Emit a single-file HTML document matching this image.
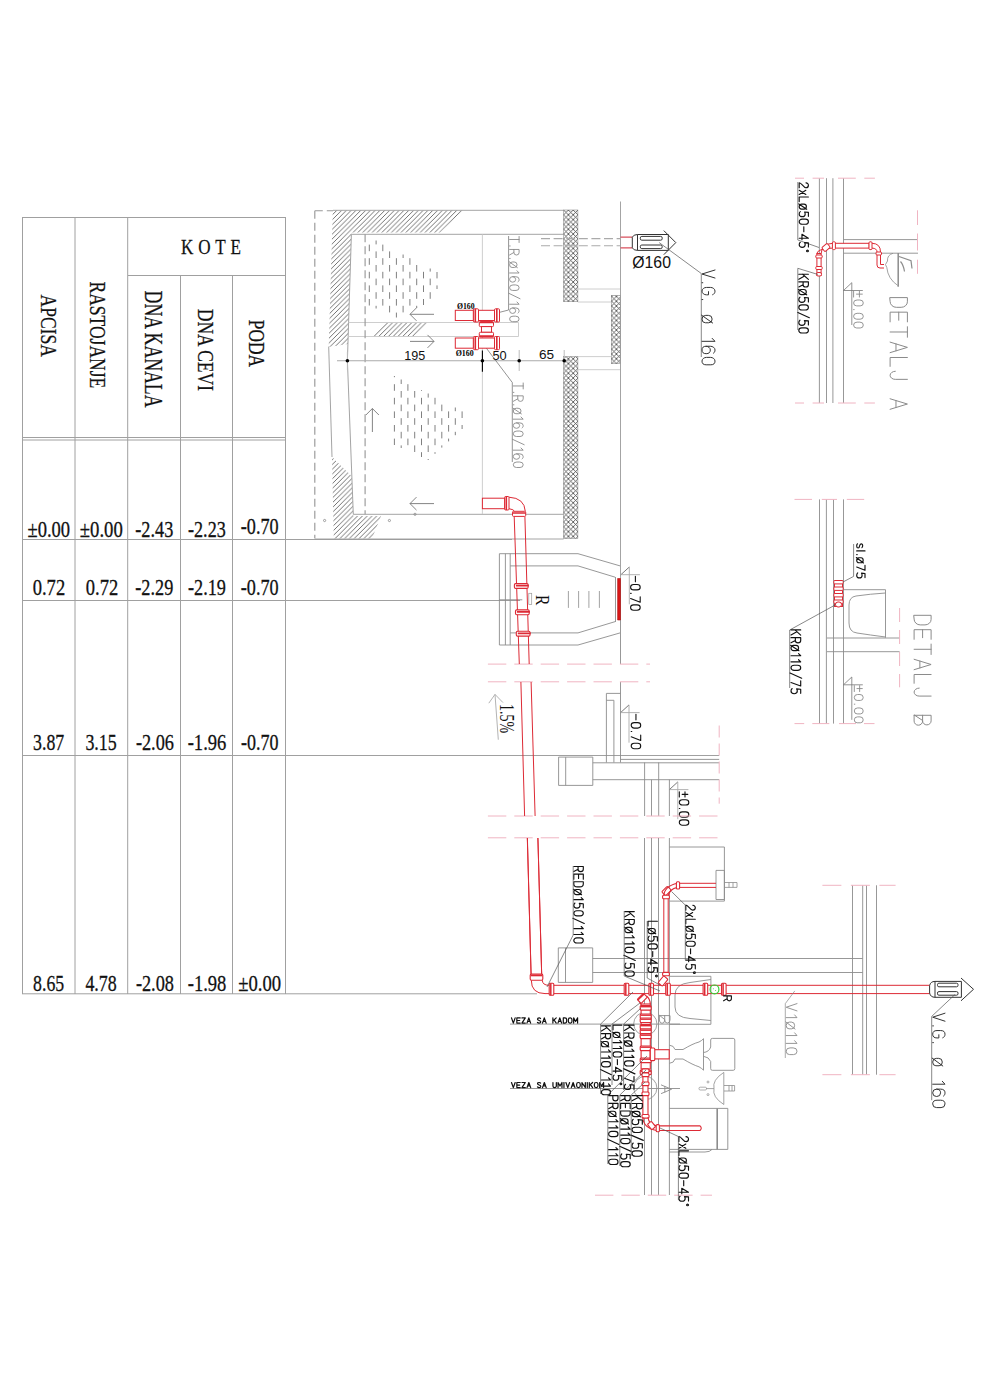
<!DOCTYPE html>
<html><head><meta charset="utf-8">
<style>html,body{margin:0;padding:0;background:#fff;}svg{display:block;}</style></head><body>
<svg width="990" height="1400" viewBox="0 0 990 1400">
<rect width="990" height="1400" fill="#fff"/>
<g stroke="#a0a0a0" stroke-width="1" fill="none">
<path d="M22 217.5H286M128 275.5H286M22 437.5H286M22 440H286M22 539.5H512M22 600.5H520M22 755.5H719.2M22 993.8H537"/>
<path d="M22.5 217V994M75 217V994M127.7 217V994M180.5 275V994M232.5 275V994M285.5 217V994"/>
</g>
<text transform="translate(181,254.28) scale(0.791,1)" font-family='"Liberation Serif",serif' font-size="21.64" fill="#111" stroke="#111" stroke-width="0.25" letter-spacing="6.06">KOTE</text>
<text transform="translate(41.13,294.5) rotate(90) scale(0.760,1)" font-family='"Liberation Serif",serif' font-size="23.13" fill="#111" stroke="#111" stroke-width="0.25">APCISA</text>
<text transform="translate(90.44,281.5) rotate(90) scale(0.729,1)" font-family='"Liberation Serif",serif' font-size="24.03" fill="#111" stroke="#111" stroke-width="0.25">RASTOJANJE</text>
<text transform="translate(145.1,290.6) rotate(90) scale(0.724,1)" font-family='"Liberation Serif",serif' font-size="24.55" fill="#111" stroke="#111" stroke-width="0.25">DNA KANALA</text>
<text transform="translate(198.15,308.8) rotate(90) scale(0.754,1)" font-family='"Liberation Serif",serif' font-size="23.26" fill="#111" stroke="#111" stroke-width="0.25">DNA CEVI</text>
<text transform="translate(248.83,319.8) rotate(90) scale(0.758,1)" font-family='"Liberation Serif",serif' font-size="22.99" fill="#111" stroke="#111" stroke-width="0.25">PODA</text>
<text transform="translate(27.5,536.65) scale(0.799,1)" font-family='"Liberation Serif",serif' font-size="23.24" fill="#111" stroke="#111" stroke-width="0.3">±0.00</text>
<text transform="translate(79.8,536.65) scale(0.806,1)" font-family='"Liberation Serif",serif' font-size="23.24" fill="#111" stroke="#111" stroke-width="0.3">±0.00</text>
<text transform="translate(135.3,536.65) scale(0.779,1)" font-family='"Liberation Serif",serif' font-size="23.41" fill="#111" stroke="#111" stroke-width="0.3">-2.43</text>
<text transform="translate(188,536.65) scale(0.775,1)" font-family='"Liberation Serif",serif' font-size="23.41" fill="#111" stroke="#111" stroke-width="0.3">-2.23</text>
<text transform="translate(240.8,533.85) scale(0.777,1)" font-family='"Liberation Serif",serif' font-size="23.38" fill="#111" stroke="#111" stroke-width="0.3">-0.70</text>
<text transform="translate(32.7,594.65) scale(0.789,1)" font-family='"Liberation Serif",serif' font-size="23.53" fill="#111" stroke="#111" stroke-width="0.3">0.72</text>
<text transform="translate(85.8,594.65) scale(0.787,1)" font-family='"Liberation Serif",serif' font-size="23.53" fill="#111" stroke="#111" stroke-width="0.3">0.72</text>
<text transform="translate(135.3,594.64) scale(0.769,1)" font-family='"Liberation Serif",serif' font-size="23.70" fill="#111" stroke="#111" stroke-width="0.3">-2.29</text>
<text transform="translate(188,594.64) scale(0.769,1)" font-family='"Liberation Serif",serif' font-size="23.70" fill="#111" stroke="#111" stroke-width="0.3">-2.19</text>
<text transform="translate(240.8,594.65) scale(0.773,1)" font-family='"Liberation Serif",serif' font-size="23.53" fill="#111" stroke="#111" stroke-width="0.3">-0.70</text>
<text transform="translate(33.1,750.16) scale(0.780,1)" font-family='"Liberation Serif",serif' font-size="22.79" fill="#111" stroke="#111" stroke-width="0.3">3.87</text>
<text transform="translate(85.4,750.16) scale(0.781,1)" font-family='"Liberation Serif",serif' font-size="22.96" fill="#111" stroke="#111" stroke-width="0.3">3.15</text>
<text transform="translate(135.9,750.16) scale(0.802,1)" font-family='"Liberation Serif",serif' font-size="22.79" fill="#111" stroke="#111" stroke-width="0.3">-2.06</text>
<text transform="translate(187.7,750.16) scale(0.808,1)" font-family='"Liberation Serif",serif' font-size="22.96" fill="#111" stroke="#111" stroke-width="0.3">-1.96</text>
<text transform="translate(240.9,750.16) scale(0.791,1)" font-family='"Liberation Serif",serif' font-size="22.79" fill="#111" stroke="#111" stroke-width="0.3">-0.70</text>
<text transform="translate(33.1,991.04) scale(0.737,1)" font-family='"Liberation Serif",serif' font-size="24.12" fill="#111" stroke="#111" stroke-width="0.3">8.65</text>
<text transform="translate(85.4,991.04) scale(0.744,1)" font-family='"Liberation Serif",serif' font-size="24.12" fill="#111" stroke="#111" stroke-width="0.3">4.78</text>
<text transform="translate(135.9,991.04) scale(0.758,1)" font-family='"Liberation Serif",serif' font-size="24.12" fill="#111" stroke="#111" stroke-width="0.3">-2.08</text>
<text transform="translate(187.7,991.04) scale(0.770,1)" font-family='"Liberation Serif",serif' font-size="24.12" fill="#111" stroke="#111" stroke-width="0.3">-1.98</text>
<text transform="translate(238.2,991.04) scale(0.775,1)" font-family='"Liberation Serif",serif' font-size="24.12" fill="#111" stroke="#111" stroke-width="0.3">±0.00</text>
<defs>
<pattern id="hat" patternUnits="userSpaceOnUse" width="4.8" height="4.8"><path d="M-1 5.8L5.8 -1M-1 1L1 -1M3.8 5.8L5.8 3.8" stroke="#5a5a5a" stroke-width="0.85"/></pattern>
<pattern id="crs" patternUnits="userSpaceOnUse" width="4.8" height="4.8" x="563.6" y="210"><path d="M0 0L4.8 4.8M4.8 0L0 4.8" stroke="#404040" stroke-width="0.8"/></pattern>
<filter id="thin" x="-10%" y="-10%" width="120%" height="120%"><feMorphology operator="erode" radius="0.45"/></filter>
<filter id="thin2" x="-10%" y="-10%" width="120%" height="120%"><feMorphology operator="erode" radius="0.3"/></filter>
</defs>
<g fill="none" stroke="#9a9a9a" stroke-width="0.9">
<path fill="url(#hat)" stroke="none" d="M332.8 210.5H464L440 232.6H351.3L348 344L328.7 347Z"/>
<path fill="url(#hat)" stroke="none" d="M332 457L351.6 476L353.3 516H381L372 538.6H333.8Z"/>
<path fill="url(#hat)" stroke="none" d="M373 336.5L386 322.5H428L415 336.5Z"/>
<rect x="563.6" y="210" width="14.3" height="91.7" fill="url(#crs)" stroke="#777" stroke-width="0.5"/>
<rect x="563.6" y="356.6" width="14.3" height="182" fill="url(#crs)" stroke="#777" stroke-width="0.5"/>
<rect x="611.3" y="295.4" width="9.2" height="68.3" fill="url(#crs)" stroke="#777" stroke-width="0.5"/>
<path d="M333 210.3H563.6M351.4 234.3H563.6M351.4 234.3L347.4 360.7L353.3 514.3H563.6M328.7 346.6L332 457"/>
<path d="M482.4 234.3V514M348.5 322.5H518.5V336.5H348.5" stroke="#c8c8c8"/>
<path d="M577.9 289H620.5M577.9 302H611.3M577.9 356.6H611.3M577.9 369.7H620.5" stroke="#c8c8c8"/>
<path d="M620.5 201.5V580"/>
<path d="M315 539H563.6"/>
</g>
<g fill="none" stroke="#999" stroke-width="1.15" stroke-dasharray="8 4">
<path d="M314.8 210.7V538.6M314.8 210.7H333M365.1 234.3V514.3"/>
</g>
<g fill="none" stroke="#aaa" stroke-width="1.1" stroke-dasharray="9 3.6">
<path d="M541 238.6H620.5M541 245.8H620.5"/>
</g>
<path d="M369.3 244.6V251.2M369.3 258.2V264.8M369.3 271.8V278.4M369.3 285.4V292.0M369.3 299.0V305.5M376.1 240.5V244.4M376.1 251.4V258.0M376.1 265.0V271.6M376.1 278.6V285.2M376.1 292.2V298.8M376.1 305.8V308.5M382.8 244.6V251.2M382.8 258.2V264.8M382.8 271.8V278.4M382.8 285.4V292.0M382.8 299.0V305.6M389.6 251.4V258.0M389.6 265.0V271.6M389.6 278.6V285.2M389.6 292.2V298.8M389.6 305.8V312.4M396.4 258.2V264.8M396.4 271.8V278.4M396.4 285.4V292.0M396.4 299.0V305.6M396.4 312.6V317.5M403.1 254.5V258.0M403.1 265.0V271.6M403.1 278.6V285.2M403.1 292.2V298.8M403.1 305.8V312.4M409.9 258.2V264.8M409.9 271.8V278.4M409.9 285.4V292.0M409.9 299.0V305.6M416.7 265.0V271.6M416.7 278.6V285.2M416.7 292.2V298.8M416.7 305.8V308.0M423.5 271.8V278.4M423.5 285.4V292.0M423.5 299.0V305.0M430.2 268.5V271.6M430.2 278.6V285.2M430.2 292.2V298.8M437.0 272.0V278.4M437.0 285.4V289.0" stroke="#808080" stroke-width="1" fill="none"/>
<path d="M394.4 376.0V377.2M394.4 384.2V390.8M394.4 397.8V404.4M394.4 411.4V418.0M394.4 425.0V431.6M394.4 438.6V445.0M401.2 379.5V384.0M401.2 391.0V397.6M401.2 404.6V411.2M401.2 418.2V424.8M401.2 431.8V438.4M401.2 445.4V448.0M407.9 384.2V390.8M407.9 397.8V404.4M407.9 411.4V418.0M407.9 425.0V431.6M407.9 438.6V445.2M414.7 391.0V397.6M414.7 404.6V411.2M414.7 418.2V424.8M414.7 431.8V438.4M414.7 445.4V452.0M421.5 390.0V390.8M421.5 397.8V404.4M421.5 411.4V418.0M421.5 425.0V431.6M421.5 438.6V445.2M421.5 452.2V457.0M428.2 393.5V397.6M428.2 404.6V411.2M428.2 418.2V424.8M428.2 431.8V438.4M428.2 445.4V452.0M428.2 459.0V460.0M435.0 397.8V404.4M435.0 411.4V418.0M435.0 425.0V431.6M435.0 438.6V445.2M435.0 452.2V453.8M441.8 404.6V411.2M441.8 418.2V424.8M441.8 431.8V438.4M441.8 445.4V447.6M448.6 411.4V418.0M448.6 425.0V431.6M448.6 438.6V441.4M455.3 407.5V411.2M455.3 418.2V424.8M455.3 431.8V435.2M462.1 411.4V418.0M462.1 425.0V429.0" stroke="#808080" stroke-width="1" fill="none"/>
<g stroke="#777" stroke-width="0.9" fill="none">
<path d="M434.0 314.3L410.0 314.3M416.5 307.8L410.0 314.3L416.5 320.8"/>
<path d="M410.0 341.4L434.0 341.4M427.5 347.9L434.0 341.4L427.5 334.9"/>
<path d="M372.4 432.0L372.4 408.5M378.9 415.0L372.4 408.5L365.9 415.0"/>
<path d="M434.0 503.6L410.0 503.6M416.5 497.1L410.0 503.6L416.5 510.1"/>
</g>
<g fill="none" stroke="#888" stroke-width="0.8"><circle cx="324.6" cy="520.5" r="1.1"/><circle cx="389.4" cy="520.5" r="1.1"/><circle cx="415" cy="514.3" r="1.1"/></g>
<path d="M337 360.7H569" stroke="#aaa" stroke-width="1.1"/>
<path d="M519.2 350V371M564.2 350V371M347.4 352V370" stroke="#bbb" stroke-width="1"/>
<path d="M482.4 350.5V371.7" stroke="#000" stroke-width="1.1"/>
<g fill="#000"><circle cx="347.4" cy="360.7" r="1.8"/><circle cx="482.4" cy="360.7" r="1.8"/><circle cx="519.2" cy="360.7" r="1.8"/><circle cx="564.2" cy="360.7" r="1.8"/></g>
<text transform="translate(404.3,359.76) scale(0.934,1)" font-family='"Liberation Sans",sans-serif' font-size="13.52" fill="#111" >195</text>
<text transform="translate(492.4,359.66) scale(0.936,1)" font-family='"Liberation Sans",sans-serif' font-size="13.66" fill="#111" >50</text>
<text transform="translate(539,359.08) scale(1.123,1)" font-family='"Liberation Sans",sans-serif' font-size="12.11" fill="#111" >65</text>
<path d="M482.3 316.9L499.3 312.4L508.6 310V236" stroke="#666" stroke-width="0.7" fill="none"/>
<g transform="matrix(0,0.9191,-0.9500,0,509.60,236.50)" fill="none" stroke="#8a8a8a" stroke-width="0.9" stroke-linecap="round" stroke-linejoin="round"><path vector-effect="non-scaling-stroke" transform="translate(0.00,0)" d="M0,-10H6.5M3.25,-10V0"/><path vector-effect="non-scaling-stroke" transform="translate(9.50,0)" d="M0.8,-0.6V0"/><path vector-effect="non-scaling-stroke" transform="translate(14.10,0)" d="M0,0V-10H3.3A2.75,2.75 0 0 1 3.3,-4.5H0M3.3,-4.5L6,0"/><path vector-effect="non-scaling-stroke" transform="translate(23.10,0)" d="M0.8,-0.6V0"/><path vector-effect="non-scaling-stroke" transform="translate(27.70,0)" d="M0,-5.2A3,2.6 0 0 1 6,-5.2V-2.6A3,2.6 0 0 1 0,-2.6ZM-0.2,0.4L6.2,-8.2"/><path vector-effect="non-scaling-stroke" transform="translate(36.70,0)" d="M0.6,-7.8L3,-10V0"/><path vector-effect="non-scaling-stroke" transform="translate(43.70,0)" d="M5.6,-8.9C5,-9.7 4.1,-10 3,-10A3,3.6 0 0 0 0,-6.4V-3.2A3,3.2 0 0 0 6,-3.2A3,3.2 0 0 0 0,-3.2"/><path vector-effect="non-scaling-stroke" transform="translate(52.70,0)" d="M0,-6.8A3,3.2 0 0 1 6,-6.8V-3.2A3,3.2 0 0 1 0,-3.2Z"/><path vector-effect="non-scaling-stroke" transform="translate(61.70,0)" d="M0,1L6,-11"/><path vector-effect="non-scaling-stroke" transform="translate(70.70,0)" d="M0.6,-7.8L3,-10V0"/><path vector-effect="non-scaling-stroke" transform="translate(77.70,0)" d="M5.6,-8.9C5,-9.7 4.1,-10 3,-10A3,3.6 0 0 0 0,-6.4V-3.2A3,3.2 0 0 0 6,-3.2A3,3.2 0 0 0 0,-3.2"/><path vector-effect="non-scaling-stroke" transform="translate(86.70,0)" d="M0,-6.8A3,3.2 0 0 1 6,-6.8V-3.2A3,3.2 0 0 1 0,-3.2Z"/></g>
<path d="M482.3 342.8L512.3 382.5V462" stroke="#666" stroke-width="0.7" fill="none"/>
<g transform="matrix(0,0.9115,-0.9900,0,513.30,383.00)" fill="none" stroke="#8a8a8a" stroke-width="0.9" stroke-linecap="round" stroke-linejoin="round"><path vector-effect="non-scaling-stroke" transform="translate(0.00,0)" d="M0,-10H6.5M3.25,-10V0"/><path vector-effect="non-scaling-stroke" transform="translate(9.50,0)" d="M0.8,-0.6V0"/><path vector-effect="non-scaling-stroke" transform="translate(14.10,0)" d="M0,0V-10H3.3A2.75,2.75 0 0 1 3.3,-4.5H0M3.3,-4.5L6,0"/><path vector-effect="non-scaling-stroke" transform="translate(23.10,0)" d="M0.8,-0.6V0"/><path vector-effect="non-scaling-stroke" transform="translate(27.70,0)" d="M0,-5.2A3,2.6 0 0 1 6,-5.2V-2.6A3,2.6 0 0 1 0,-2.6ZM-0.2,0.4L6.2,-8.2"/><path vector-effect="non-scaling-stroke" transform="translate(36.70,0)" d="M0.6,-7.8L3,-10V0"/><path vector-effect="non-scaling-stroke" transform="translate(43.70,0)" d="M5.6,-8.9C5,-9.7 4.1,-10 3,-10A3,3.6 0 0 0 0,-6.4V-3.2A3,3.2 0 0 0 6,-3.2A3,3.2 0 0 0 0,-3.2"/><path vector-effect="non-scaling-stroke" transform="translate(52.70,0)" d="M0,-6.8A3,3.2 0 0 1 6,-6.8V-3.2A3,3.2 0 0 1 0,-3.2Z"/><path vector-effect="non-scaling-stroke" transform="translate(61.70,0)" d="M0,1L6,-11"/><path vector-effect="non-scaling-stroke" transform="translate(70.70,0)" d="M0.6,-7.8L3,-10V0"/><path vector-effect="non-scaling-stroke" transform="translate(77.70,0)" d="M5.6,-8.9C5,-9.7 4.1,-10 3,-10A3,3.6 0 0 0 0,-6.4V-3.2A3,3.2 0 0 0 6,-3.2A3,3.2 0 0 0 0,-3.2"/><path vector-effect="non-scaling-stroke" transform="translate(86.70,0)" d="M0,-6.8A3,3.2 0 0 1 6,-6.8V-3.2A3,3.2 0 0 1 0,-3.2Z"/></g>
<text transform="translate(456.9,308.7) scale(0.953,1)" font-family='"Liberation Serif",serif' font-weight='bold' font-size="8.14" fill="#000" >Ø160</text>
<text transform="translate(455.7,355.58) scale(0.911,1)" font-family='"Liberation Serif",serif' font-weight='bold' font-size="8.71" fill="#000" >Ø160</text>
<g stroke="#dd2a35" stroke-width="1" fill="#fff">
<rect x="455.3" y="310.3" width="18.1" height="10.2"/>
<rect x="478.5" y="310.3" width="16" height="10.2"/>
<rect x="473.4" y="308.8" width="5.1" height="13.2" rx="1"/>
<rect x="494.5" y="308.8" width="5" height="13.2" rx="1"/>
<path d="M475.3 308.8V322.1M496.8 308.8V322.1" stroke-width="1.6"/>
<rect x="455.3" y="338.0" width="18.1" height="10.2"/>
<rect x="478.5" y="338.0" width="16" height="10.2"/>
<rect x="473.4" y="336.5" width="5.1" height="13.2" rx="1"/>
<rect x="494.5" y="336.5" width="5" height="13.2" rx="1"/>
<path d="M475.3 336.5V349.7M496.8 336.5V349.7" stroke-width="1.6"/>
<rect x="479.3" y="321.6" width="14.2" height="5" rx="1"/><rect x="481.5" y="326.6" width="10" height="5.7"/><rect x="479.3" y="332.3" width="14.2" height="4.6" rx="1"/>
<path d="M479.5 322.3H493.3M479.5 336.2H493.3" stroke-width="1.8"/>
</g>
<path d="M620.5 237.2H632.3M620.5 247.8H632.3" stroke="#d9505e" stroke-width="1.2"/>
<g stroke="#333" stroke-width="1" fill="none">
<path d="M632.3 237.2Q633.5 234.5 637.5 234.5H668.3V250.4H637.5Q633.5 250.4 632.3 247.8ZM637.5 234.5V250.4"/>
<rect x="640.3" y="236.4" width="21.9" height="3.8" rx="1.5"/><rect x="640.3" y="245" width="21.9" height="3.6" rx="1.5"/>
<path d="M663.8 230.6L675.8 242.6L663.8 254.7"/>
</g>
<path d="M659.2 242.6L701.3 273.5V357" stroke="#555" stroke-width="0.7" fill="none"/>
<text transform="translate(632.3,267.92) scale(0.979,1)" font-family='"Liberation Sans",sans-serif' font-size="16.13" fill="#111" >Ø160</text>
<g transform="matrix(0,1.2360,-1.3000,0,702.00,270.00)" fill="none" stroke="#333" stroke-width="1.0" stroke-linecap="round" stroke-linejoin="round"><path vector-effect="non-scaling-stroke" transform="translate(0.00,0)" d="M0,-10L3.25,0L6.5,-10"/><path vector-effect="non-scaling-stroke" transform="translate(9.50,0)" d="M0.8,-0.6V0"/><path vector-effect="non-scaling-stroke" transform="translate(14.10,0)" d="M5.9,-8.2C5.4,-9.4 4.4,-10 3,-10A3,3.5 0 0 0 0,-6.5V-3.5A3,3.5 0 0 0 6,-3.5V-5H3.4"/><path vector-effect="non-scaling-stroke" transform="translate(23.10,0)" d="M0.8,-0.6V0"/><path vector-effect="non-scaling-stroke" transform="translate(36.70,0)" d="M0,-5.2A3,2.6 0 0 1 6,-5.2V-2.6A3,2.6 0 0 1 0,-2.6ZM-0.2,0.4L6.2,-8.2"/><path vector-effect="non-scaling-stroke" transform="translate(54.70,0)" d="M0.6,-7.8L3,-10V0"/><path vector-effect="non-scaling-stroke" transform="translate(61.70,0)" d="M5.6,-8.9C5,-9.7 4.1,-10 3,-10A3,3.6 0 0 0 0,-6.4V-3.2A3,3.2 0 0 0 6,-3.2A3,3.2 0 0 0 0,-3.2"/><path vector-effect="non-scaling-stroke" transform="translate(70.70,0)" d="M0,-6.8A3,3.2 0 0 1 6,-6.8V-3.2A3,3.2 0 0 1 0,-3.2Z"/></g>
<g fill="none" stroke="#8c8c8c" stroke-width="0.9">
<path d="M499.4 553.7V645M505.4 553.7V645M510.2 553.7V645M499.4 553.7H578L620.1 565.9M510.2 565.9H578L615.2 577.2M615.2 621.6L578 632.9H510.2M620.1 632.9L578 645H499.4M615.5 577V622"/>
<path d="M522.3 599.8H499" />
<path d="M620.5 580V664M620.5 682V762.5"/>
<path d="M606.4 762.5V693.4H620.5M613.9 762.5V700.3H606.4"/>
<path d="M558.6 757.1H592.8V785.4H558.6ZM565.7 757.1V785.4M592.8 762.8H719.2M592.8 779.7H719.2M620.5 759.4H719.2"/>
<path d="M644.6 762.5V816M651.5 779.7V816M658.7 762.5V816M669.4 779.7V816"/>
</g>
<path d="M617.6 578.5H620.5V620H617.6Z" fill="#d81818" stroke="#b01010" stroke-width="0.6"/>
<path d="M568.4 591V607.9M578.6 591V607.9M588.9 591V607.9M599.4 591V607.9" stroke="#999" stroke-width="0.9"/>
<rect x="528.8" y="593.3" width="2.9" height="11.3" fill="none" stroke="#999" stroke-width="0.7"/>
<text transform="translate(536,595) rotate(90) scale(0.782,1)" font-family='"Liberation Serif",serif' font-size="19.85" fill="#111" >R</text>
<path d="M620.9 574.7L629.3 567.0" stroke="#555" stroke-width="0.8" fill="none"/>
<path d="M629.3 567.0V604.3M620.9 574.7H639.9" stroke="#aaa" stroke-width="0.9" fill="none"/>
<g transform="matrix(0,0.9016,-0.9600,0,630.60,576.40)" fill="none" stroke="#111" stroke-width="1.1" stroke-linecap="round" stroke-linejoin="round"><path vector-effect="non-scaling-stroke" transform="translate(0.00,0)" d="M0,-5H6"/><path vector-effect="non-scaling-stroke" transform="translate(9.00,0)" d="M0,-6.8A3,3.2 0 0 1 6,-6.8V-3.2A3,3.2 0 0 1 0,-3.2Z"/><path vector-effect="non-scaling-stroke" transform="translate(18.00,0)" d="M0.8,-0.6V0"/><path vector-effect="non-scaling-stroke" transform="translate(22.60,0)" d="M0,-10H6L2,0"/><path vector-effect="non-scaling-stroke" transform="translate(31.60,0)" d="M0,-6.8A3,3.2 0 0 1 6,-6.8V-3.2A3,3.2 0 0 1 0,-3.2Z"/></g>
<path d="M620.6 712.6L629.0 704.9" stroke="#555" stroke-width="0.8" fill="none"/>
<path d="M629.0 704.9V742.7M620.6 712.6H639.6" stroke="#aaa" stroke-width="0.9" fill="none"/>
<g transform="matrix(0,0.9122,-0.9500,0,631.20,714.40)" fill="none" stroke="#111" stroke-width="1.1" stroke-linecap="round" stroke-linejoin="round"><path vector-effect="non-scaling-stroke" transform="translate(0.00,0)" d="M0,-5H6"/><path vector-effect="non-scaling-stroke" transform="translate(9.00,0)" d="M0,-6.8A3,3.2 0 0 1 6,-6.8V-3.2A3,3.2 0 0 1 0,-3.2Z"/><path vector-effect="non-scaling-stroke" transform="translate(18.00,0)" d="M0.8,-0.6V0"/><path vector-effect="non-scaling-stroke" transform="translate(22.60,0)" d="M0,-10H6L2,0"/><path vector-effect="non-scaling-stroke" transform="translate(31.60,0)" d="M0,-6.8A3,3.2 0 0 1 6,-6.8V-3.2A3,3.2 0 0 1 0,-3.2Z"/></g>
<path d="M669.4 789.6L677.8 781.9" stroke="#555" stroke-width="0.8" fill="none"/>
<path d="M677.8 781.9V819.2M669.4 789.6H688.4" stroke="#aaa" stroke-width="0.9" fill="none"/>
<g transform="matrix(0,0.8910,-0.9500,0,679.30,791.70)" fill="none" stroke="#111" stroke-width="1.1" stroke-linecap="round" stroke-linejoin="round"><path vector-effect="non-scaling-stroke" transform="translate(0.00,0)" d="M3,-9V-3M0,-6H6M0,0H6"/><path vector-effect="non-scaling-stroke" transform="translate(9.00,0)" d="M0,-6.8A3,3.2 0 0 1 6,-6.8V-3.2A3,3.2 0 0 1 0,-3.2Z"/><path vector-effect="non-scaling-stroke" transform="translate(18.00,0)" d="M0.8,-0.6V0"/><path vector-effect="non-scaling-stroke" transform="translate(22.60,0)" d="M0,-6.8A3,3.2 0 0 1 6,-6.8V-3.2A3,3.2 0 0 1 0,-3.2Z"/><path vector-effect="non-scaling-stroke" transform="translate(31.60,0)" d="M0,-6.8A3,3.2 0 0 1 6,-6.8V-3.2A3,3.2 0 0 1 0,-3.2Z"/></g>
<path d="M498.3 739.7L495 694.4M488.8 703.2L495 694.4L503 702.6" stroke="#aaa" stroke-width="0.9" fill="none"/>
<text transform="translate(499.91,704.1) rotate(90) scale(0.678,1)" font-family='"Liberation Serif",serif' font-size="20.59" fill="#111" >1.5%</text>
<path d="M487.9 664.1H650" stroke="#f0b4c2" stroke-width="1" stroke-dasharray="18.4 8"/>
<path d="M487.9 681.8H650" stroke="#f0b4c2" stroke-width="1" stroke-dasharray="18.4 8"/>
<path d="M487.9 816H720" stroke="#f0b4c2" stroke-width="1" stroke-dasharray="18.4 8"/>
<path d="M487.9 837.8H720" stroke="#f0b4c2" stroke-width="1" stroke-dasharray="18.4 8"/>
<path d="M719.2 725.5V803.7" stroke="#f0b4c2" stroke-width="1" stroke-dasharray="12 6"/>
<g stroke="#dd2a35" stroke-width="1" fill="none">
<path d="M514.2 516.4L519.3 664M524.9 516.4L529.2 664M520.9 682L524.6 816M531.1 682L535.1 816M527.4 838L531.1 975M537.9 838L541.7 975"/>
</g>
<g stroke="#dd2a35" stroke-width="1.1" fill="#fff">
<rect x="514.4" y="583.6" width="13.7" height="4.8" rx="1.2"/>
<rect x="515.5" y="609.9" width="13.7" height="4.8" rx="1.2"/>
<rect x="516.3" y="631.3" width="13.7" height="4.8" rx="1.2"/>
<path d="M515.9 585.6H528.8M516.9 611.9H529.8M517.8 633.3H530.7" stroke-width="1.8"/>
</g>
<g stroke="#dd2a35" stroke-width="1" fill="#fff">
<rect x="482.4" y="498.2" width="22.2" height="10.5"/>
<path d="M509 497.2Q524.5 498 525.3 511.3M509 508.7Q514 509.5 514.5 511.3" fill="none"/>
<rect x="504.6" y="496.5" width="4.4" height="13.5" rx="1"/>
<rect x="512.5" y="511.3" width="13.2" height="5.1" rx="1"/>
<path d="M506.3 496.5V510M512.5 513H525.7" stroke-width="1.6"/>
</g>
<g fill="none" stroke="#8c8c8c" stroke-width="0.9">
<path d="M644.5 838V1195M651.5 838V1195M658.5 838V1195M669.4 838V1195"/>
<path d="M669.4 847H724.4V901.1H669.4"/>
<path d="M716 870.4H724.4V899.5H716Z"/>
<path d="M724.4 882.5H737V887.4H724.4M729 882.5V887.4M733 882.5V887.4" stroke-width="0.8"/>
<path d="M558.3 947.9H592.7V982.4H558.3ZM565.5 947.9V982.4M592.7 958.5H862.7M592.7 972.5H862.7"/>
<path d="M669.4 976.3H710.9V1024.3H669.4M710.9 979.5L690 982.5Q675 984 675 995V1007Q675 1017.5 690 1018.5L710.9 1020.5"/>
<path d="M669.4 1045.2Q674 1045.5 675 1049.5H683Q693 1043.5 699 1042Q702 1040.5 703.5 1038.7V1070.2Q702 1068.5 699 1066.8Q693 1065 683 1059H675Q674 1063 669.4 1063.3M703.5 1052.5Q709 1052 710.7 1047M703.5 1056.3Q709 1057 710.7 1061.5"/>
<path d="M710.7 1047V1040Q710.7 1038.4 712.3 1038.4H733.2Q734.8 1038.4 734.8 1040V1068.7Q734.8 1070.3 733.2 1070.3H712.3Q710.7 1070.3 710.7 1068.7V1061.5"/>
<path d="M723.8 1072.4Q712 1080 714 1088.6Q712 1097 723.8 1104.5M723.8 1072.4V1104.5M714 1088.6H706M724 1085.5H734.6V1091H724M729 1085.5V1091M732 1085.5V1091" stroke-width="0.8"/>
<rect x="699" y="1087.2" width="7.5" height="2.8" rx="1.2" stroke-width="0.7"/><circle cx="708" cy="1082" r="1" stroke-width="0.7"/><circle cx="708" cy="1094.6" r="1" stroke-width="0.7"/>
<path d="M669.4 1108.4H727.8V1149.4H669.4M712 1149.4Q710 1152 705 1152H669.4"/>
<path d="M717.2 1108.4V1149.4" stroke-width="1.6"/>
<circle cx="645.3" cy="1023.8" r="11.6" stroke-width="0.8"/><circle cx="645.3" cy="1088" r="11.6" stroke-width="0.8"/>
<path d="M510 1024.1H680M510 1088.5H680" stroke-width="0.9"/>
<path d="M852.5 885.3V1074.7M862.7 885.3V1074.7M866.5 885.3V1074.7M876.5 885.3V1074.7"/>
</g>
<path d="M822.4 885.3H895.6" stroke="#f0b4c2" stroke-width="1" stroke-dasharray="19 9.5"/>
<path d="M822.4 1074.7H895.6" stroke="#f0b4c2" stroke-width="1" stroke-dasharray="19 9.5"/>
<path d="M595 1195.2H712" stroke="#f0b4c2" stroke-width="1" stroke-dasharray="18.4 8"/>
<g transform="matrix(0,1.2419,-1.0600,0,659.40,1015.60)" fill="none" stroke="#8a8a8a" stroke-width="0.9" stroke-linecap="round" stroke-linejoin="round"><path vector-effect="non-scaling-stroke" transform="translate(0.00,0)" d="M0,0V-10H3.5A2.5,2.5 0 0 1 3.5,-5H0M3.5,-5H3.6A2.6,2.5 0 0 1 3.6,0H0Z"/></g>
<g transform="matrix(0,1.3077,-1.0100,0,661.40,1085.00)" fill="none" stroke="#8a8a8a" stroke-width="0.9" stroke-linecap="round" stroke-linejoin="round"><path vector-effect="non-scaling-stroke" transform="translate(0.00,0)" d="M0,0L3.25,-10L6.5,0M1.1,-3.4H5.4"/></g>
<g stroke="#dd2a35" stroke-width="1" fill="none">
<path d="M527.3 838L531.1 975M537.9 838L541.7 975"/>
<path d="M531.3 980.2Q531.3 993.6 545 993.6H929.6M542.3 980.2Q542.5 985.3 549 985.3H929.6"/>
<path d="M663.8 898V973.8M668.2 898V973.8M677.6 883.3H716M677.6 887.4H716"/>
</g>
<g stroke="#dd2a35" stroke-width="1.1" fill="#fff">
<rect x="530.2" y="974.1" width="12.6" height="6.1" rx="1.2"/>
<path d="M530.6 975.5H542.4" stroke-width="1.6"/>
<rect x="549.2" y="983.3" width="4.6" height="12" rx="1"/>
<path d="M550.8 983.3V995.3" stroke-width="1.5"/>
<rect x="624.2" y="983.3" width="4.6" height="12" rx="1"/>
<path d="M625.8 983.3V995.3" stroke-width="1.5"/>
<rect x="648.9" y="983.3" width="4.6" height="12" rx="1"/>
<path d="M650.5 983.3V995.3" stroke-width="1.5"/>
<rect x="665.7" y="983.3" width="4.6" height="12" rx="1"/>
<path d="M667.3 983.3V995.3" stroke-width="1.5"/>
<rect x="703.1" y="983.3" width="4.6" height="12" rx="1"/>
<path d="M704.7 983.3V995.3" stroke-width="1.5"/>
<rect x="721.5" y="983.3" width="4.6" height="12" rx="1"/>
<path d="M723.1 983.3V995.3" stroke-width="1.5"/>
<path d="M646.5 996Q650.3 999 650.3 1004.5M639.5 1001.5L641.1 1004.5" fill="none"/>
<g transform="translate(642.3,998.3) rotate(45)"><rect x="-2.8" y="-4.4" width="5.6" height="8.8" rx="0.8"/><path d="M-2 -4.4V4.4" stroke-width="1.7"/></g>
<rect x="641.1" y="1004" width="9.2" height="65"/>
<rect x="640.2" y="1005.5" width="11" height="4.6" rx="1"/>
<path d="M640.5 1006.7H651" stroke-width="1.4"/>
<rect x="640.2" y="1014" width="11" height="4.6" rx="1"/>
<path d="M640.5 1015.2H651" stroke-width="1.4"/>
<rect x="640.2" y="1018" width="11" height="4.6" rx="1"/>
<path d="M640.5 1019.2H651" stroke-width="1.4"/>
<rect x="640.2" y="1024.5" width="11" height="4.6" rx="1"/>
<path d="M640.5 1025.7H651" stroke-width="1.4"/>
<rect x="640.2" y="1029" width="11" height="4.6" rx="1"/>
<path d="M640.5 1030.2H651" stroke-width="1.4"/>
<rect x="640.2" y="1034" width="11" height="4.6" rx="1"/>
<path d="M640.5 1035.2H651" stroke-width="1.4"/>
<rect x="640.2" y="1046" width="11" height="4.6" rx="1"/>
<path d="M640.5 1047.2H651" stroke-width="1.4"/>
<rect x="640.2" y="1058" width="11" height="4.6" rx="1"/>
<path d="M640.5 1059.2H651" stroke-width="1.4"/>
<rect x="640.2" y="1070" width="11" height="4.6" rx="1"/>
<path d="M640.5 1071.2H651" stroke-width="1.4"/>
<rect x="650.3" y="1049.7" width="18.9" height="9.2"/><rect x="650.3" y="1048" width="4.5" height="12.6" rx="1"/>
<rect x="642.9" y="1069" width="5.1" height="48"/>
<rect x="642" y="1069" width="7" height="3.6" rx="1"/>
<rect x="642" y="1073" width="7" height="3.6" rx="1"/>
<rect x="642" y="1082" width="7" height="3.6" rx="1"/>
<rect x="642" y="1092" width="7" height="3.6" rx="1"/>
<rect x="642" y="1114.5" width="7" height="3.6" rx="1"/>
<path d="M642.9 1117Q643 1128 656.7 1130.5M648 1117Q648.5 1124.5 656.7 1125.9" fill="none"/>
<g transform="translate(651.5,1125.5) rotate(50)"><rect x="-3.5" y="-2.5" width="7" height="5" rx="1"/></g>
<path d="M656.7 1125.9H700Q702.5 1128.2 700 1130.5H656.7" fill="none"/><rect x="656.2" y="1124.6" width="3.2" height="7.2" rx="1"/>
<g transform="translate(666.5,891) rotate(-45)"><rect x="-4" y="-2.8" width="8" height="5.6" rx="1"/></g>
<path d="M663.8 896.5Q664 886 677.6 883.3M668.2 896.5Q669 889 677.6 887.4" fill="none"/>
<rect x="662.6" y="895.3" width="6.8" height="3.4" rx="1"/><rect x="676.4" y="881.8" width="3.2" height="7.2" rx="1"/>
<rect x="662.6" y="972.4" width="6.8" height="3.4" rx="1"/>
<g transform="translate(663,981) rotate(-50)"><rect x="-4.5" y="-2.8" width="9" height="5.6" rx="1"/></g>
</g>
<circle cx="714.5" cy="989.4" r="4.4" fill="none" stroke="#3ad13a" stroke-width="1.2"/><circle cx="713.3" cy="988.8" r="0.5" fill="#3ad13a"/><circle cx="715.6" cy="990.6" r="0.5" fill="#3ad13a"/>
<g transform="matrix(0,0.8167,-0.7800,0,723.60,995.90)" fill="none" stroke="#111" stroke-width="1.1" stroke-linecap="round" stroke-linejoin="round"><path vector-effect="non-scaling-stroke" transform="translate(0.00,0)" d="M0,0V-10H3.3A2.75,2.75 0 0 1 3.3,-4.5H0M3.3,-4.5L6,0"/></g>
<g stroke="#333" stroke-width="1" fill="none">
<path d="M929.6 985.6Q930.5 981.4 935 981.4H961.4V997.3H935Q930.5 997.3 929.6 993ZM935 981.4V997.3"/>
<rect x="937.5" y="983.2" width="20.5" height="3.6" rx="1.4"/><rect x="937.5" y="991.6" width="20.5" height="3.6" rx="1.4"/>
<path d="M961 978L973.5 989.3L961 1000.8"/>
</g>
<path d="M955 994.5L931.7 1016.4V1100.2" stroke="#555" stroke-width="0.7" fill="none"/>
<g transform="matrix(0,1.2308,-1.2300,0,932.70,1013.20)" fill="none" stroke="#333" stroke-width="1.0" stroke-linecap="round" stroke-linejoin="round"><path vector-effect="non-scaling-stroke" transform="translate(0.00,0)" d="M0,-10L3.25,0L6.5,-10"/><path vector-effect="non-scaling-stroke" transform="translate(9.50,0)" d="M0.8,-0.6V0"/><path vector-effect="non-scaling-stroke" transform="translate(14.10,0)" d="M5.9,-8.2C5.4,-9.4 4.4,-10 3,-10A3,3.5 0 0 0 0,-6.5V-3.5A3,3.5 0 0 0 6,-3.5V-5H3.4"/><path vector-effect="non-scaling-stroke" transform="translate(23.10,0)" d="M0.8,-0.6V0"/><path vector-effect="non-scaling-stroke" transform="translate(36.70,0)" d="M0,-5.2A3,2.6 0 0 1 6,-5.2V-2.6A3,2.6 0 0 1 0,-2.6ZM-0.2,0.4L6.2,-8.2"/><path vector-effect="non-scaling-stroke" transform="translate(54.70,0)" d="M0.6,-7.8L3,-10V0"/><path vector-effect="non-scaling-stroke" transform="translate(61.70,0)" d="M5.6,-8.9C5,-9.7 4.1,-10 3,-10A3,3.6 0 0 0 0,-6.4V-3.2A3,3.2 0 0 0 6,-3.2A3,3.2 0 0 0 0,-3.2"/><path vector-effect="non-scaling-stroke" transform="translate(70.70,0)" d="M0,-6.8A3,3.2 0 0 1 6,-6.8V-3.2A3,3.2 0 0 1 0,-3.2Z"/></g>
<path d="M794.8 990.9L785.3 1003.6V1058" stroke="#888" stroke-width="0.7" fill="none"/>
<g transform="matrix(0,1.1209,-1.0800,0,786.20,1003.60)" fill="none" stroke="#8a8a8a" stroke-width="0.9" stroke-linecap="round" stroke-linejoin="round"><path vector-effect="non-scaling-stroke" transform="translate(0.00,0)" d="M0,-10L3.25,0L6.5,-10"/><path vector-effect="non-scaling-stroke" transform="translate(9.50,0)" d="M0.6,-7.8L3,-10V0"/><path vector-effect="non-scaling-stroke" transform="translate(16.50,0)" d="M0,-5.2A3,2.6 0 0 1 6,-5.2V-2.6A3,2.6 0 0 1 0,-2.6ZM-0.2,0.4L6.2,-8.2"/><path vector-effect="non-scaling-stroke" transform="translate(25.50,0)" d="M0.6,-7.8L3,-10V0"/><path vector-effect="non-scaling-stroke" transform="translate(32.50,0)" d="M0.6,-7.8L3,-10V0"/><path vector-effect="non-scaling-stroke" transform="translate(39.50,0)" d="M0,-6.8A3,3.2 0 0 1 6,-6.8V-3.2A3,3.2 0 0 1 0,-3.2Z"/></g>
<g transform="matrix(0,0.8500,-0.9500,0,573.80,866.50)" fill="none" stroke="#111" stroke-width="1.15" stroke-linecap="round" stroke-linejoin="round"><path vector-effect="non-scaling-stroke" transform="translate(0.00,0)" d="M0,0V-10H3.3A2.75,2.75 0 0 1 3.3,-4.5H0M3.3,-4.5L6,0"/><path vector-effect="non-scaling-stroke" transform="translate(9.00,0)" d="M6,-10H0V0H6M0,-5H5"/><path vector-effect="non-scaling-stroke" transform="translate(18.00,0)" d="M0,0V-10H2.6A3.4,3.6 0 0 1 6,-6.4V-3.6A3.4,3.6 0 0 1 2.6,0Z"/><path vector-effect="non-scaling-stroke" transform="translate(27.00,0)" d="M0,-5.2A3,2.6 0 0 1 6,-5.2V-2.6A3,2.6 0 0 1 0,-2.6ZM-0.2,0.4L6.2,-8.2"/><path vector-effect="non-scaling-stroke" transform="translate(36.00,0)" d="M0.6,-7.8L3,-10V0"/><path vector-effect="non-scaling-stroke" transform="translate(43.00,0)" d="M5.6,-10H0.8L0.4,-5.8C1.2,-6.3 2,-6.5 3,-6.5A3,3.25 0 0 1 3,0C1.8,0 0.7,-0.4 0,-1.2"/><path vector-effect="non-scaling-stroke" transform="translate(52.00,0)" d="M0,-6.8A3,3.2 0 0 1 6,-6.8V-3.2A3,3.2 0 0 1 0,-3.2Z"/><path vector-effect="non-scaling-stroke" transform="translate(61.00,0)" d="M0,1L6,-11"/><path vector-effect="non-scaling-stroke" transform="translate(70.00,0)" d="M0.6,-7.8L3,-10V0"/><path vector-effect="non-scaling-stroke" transform="translate(77.00,0)" d="M0.6,-7.8L3,-10V0"/><path vector-effect="non-scaling-stroke" transform="translate(84.00,0)" d="M0,-6.8A3,3.2 0 0 1 6,-6.8V-3.2A3,3.2 0 0 1 0,-3.2Z"/></g>
<path d="M573.2 866V935L547 987" stroke="#555" stroke-width="0.7" fill="none"/>
<g transform="matrix(0,0.8730,-0.9500,0,624.80,911.60)" fill="none" stroke="#111" stroke-width="1.15" stroke-linecap="round" stroke-linejoin="round"><path vector-effect="non-scaling-stroke" transform="translate(0.00,0)" d="M0,-10V0M6,-10L0,-4M2.1,-6L6,0"/><path vector-effect="non-scaling-stroke" transform="translate(9.00,0)" d="M0,0V-10H3.3A2.75,2.75 0 0 1 3.3,-4.5H0M3.3,-4.5L6,0"/><path vector-effect="non-scaling-stroke" transform="translate(18.00,0)" d="M0,-5.2A3,2.6 0 0 1 6,-5.2V-2.6A3,2.6 0 0 1 0,-2.6ZM-0.2,0.4L6.2,-8.2"/><path vector-effect="non-scaling-stroke" transform="translate(27.00,0)" d="M0.6,-7.8L3,-10V0"/><path vector-effect="non-scaling-stroke" transform="translate(34.00,0)" d="M0.6,-7.8L3,-10V0"/><path vector-effect="non-scaling-stroke" transform="translate(41.00,0)" d="M0,-6.8A3,3.2 0 0 1 6,-6.8V-3.2A3,3.2 0 0 1 0,-3.2Z"/><path vector-effect="non-scaling-stroke" transform="translate(50.00,0)" d="M0,1L6,-11"/><path vector-effect="non-scaling-stroke" transform="translate(59.00,0)" d="M5.6,-10H0.8L0.4,-5.8C1.2,-6.3 2,-6.5 3,-6.5A3,3.25 0 0 1 3,0C1.8,0 0.7,-0.4 0,-1.2"/><path vector-effect="non-scaling-stroke" transform="translate(68.00,0)" d="M0,-6.8A3,3.2 0 0 1 6,-6.8V-3.2A3,3.2 0 0 1 0,-3.2Z"/></g>
<path d="M624.2 911V976L660 991" stroke="#555" stroke-width="0.7" fill="none"/>
<g transform="matrix(0,0.8506,-0.9400,0,648.00,921.30)" fill="none" stroke="#111" stroke-width="1.15" stroke-linecap="round" stroke-linejoin="round"><path vector-effect="non-scaling-stroke" transform="translate(0.00,0)" d="M0,-10V0H5.5"/><path vector-effect="non-scaling-stroke" transform="translate(8.50,0)" d="M0,-5.2A3,2.6 0 0 1 6,-5.2V-2.6A3,2.6 0 0 1 0,-2.6ZM-0.2,0.4L6.2,-8.2"/><path vector-effect="non-scaling-stroke" transform="translate(17.50,0)" d="M5.6,-10H0.8L0.4,-5.8C1.2,-6.3 2,-6.5 3,-6.5A3,3.25 0 0 1 3,0C1.8,0 0.7,-0.4 0,-1.2"/><path vector-effect="non-scaling-stroke" transform="translate(26.50,0)" d="M0,-6.8A3,3.2 0 0 1 6,-6.8V-3.2A3,3.2 0 0 1 0,-3.2Z"/><path vector-effect="non-scaling-stroke" transform="translate(35.50,0)" d="M0,-5H6"/><path vector-effect="non-scaling-stroke" transform="translate(44.50,0)" d="M4.7,0V-10L0,-3H6.5"/><path vector-effect="non-scaling-stroke" transform="translate(54.00,0)" d="M5.6,-10H0.8L0.4,-5.8C1.2,-6.3 2,-6.5 3,-6.5A3,3.25 0 0 1 3,0C1.8,0 0.7,-0.4 0,-1.2"/><path vector-effect="non-scaling-stroke" transform="translate(63.00,0)" d="M0.3,-9A1,1 0 1 0 2.3,-9A1,1 0 1 0 0.3,-9Z"/></g>
<path d="M647.2 921V978L660 985" stroke="#555" stroke-width="0.7" fill="none"/>
<g transform="matrix(0,0.8317,-0.9500,0,685.80,905.10)" fill="none" stroke="#111" stroke-width="1.15" stroke-linecap="round" stroke-linejoin="round"><path vector-effect="non-scaling-stroke" transform="translate(0.00,0)" d="M0.2,-7.4A2.9,2.7 0 0 1 6,-7.2C6,-4.6 0,-2.6 0,0H6"/><path vector-effect="non-scaling-stroke" transform="translate(9.00,0)" d="M0,0L5,-7.2M0,-7.2L5,0"/><path vector-effect="non-scaling-stroke" transform="translate(17.00,0)" d="M0,-10V0H5.5"/><path vector-effect="non-scaling-stroke" transform="translate(25.50,0)" d="M0,-5.2A3,2.6 0 0 1 6,-5.2V-2.6A3,2.6 0 0 1 0,-2.6ZM-0.2,0.4L6.2,-8.2"/><path vector-effect="non-scaling-stroke" transform="translate(34.50,0)" d="M5.6,-10H0.8L0.4,-5.8C1.2,-6.3 2,-6.5 3,-6.5A3,3.25 0 0 1 3,0C1.8,0 0.7,-0.4 0,-1.2"/><path vector-effect="non-scaling-stroke" transform="translate(43.50,0)" d="M0,-6.8A3,3.2 0 0 1 6,-6.8V-3.2A3,3.2 0 0 1 0,-3.2Z"/><path vector-effect="non-scaling-stroke" transform="translate(52.50,0)" d="M0,-5H6"/><path vector-effect="non-scaling-stroke" transform="translate(61.50,0)" d="M4.7,0V-10L0,-3H6.5"/><path vector-effect="non-scaling-stroke" transform="translate(71.00,0)" d="M5.6,-10H0.8L0.4,-5.8C1.2,-6.3 2,-6.5 3,-6.5A3,3.25 0 0 1 3,0C1.8,0 0.7,-0.4 0,-1.2"/><path vector-effect="non-scaling-stroke" transform="translate(80.00,0)" d="M0.3,-9A1,1 0 1 0 2.3,-9A1,1 0 1 0 0.3,-9Z"/></g>
<path d="M671.5 891.5L685.3 905.1V960" stroke="#555" stroke-width="0.7" fill="none"/>
<g transform="matrix(0.5630,0,0,0.5200,511.50,1023.10)" fill="none" stroke="#111" stroke-width="1.2" stroke-linecap="round" stroke-linejoin="round"><path vector-effect="non-scaling-stroke" transform="translate(0.00,0)" d="M0,-10L3.25,0L6.5,-10"/><path vector-effect="non-scaling-stroke" transform="translate(9.50,0)" d="M6,-10H0V0H6M0,-5H5"/><path vector-effect="non-scaling-stroke" transform="translate(18.50,0)" d="M0,-10H6L0,0H6"/><path vector-effect="non-scaling-stroke" transform="translate(27.50,0)" d="M0,0L3.25,-10L6.5,0M1.1,-3.4H5.4"/><path vector-effect="non-scaling-stroke" transform="translate(46.00,0)" d="M5.6,-8.8C5.1,-9.6 4.1,-10 3,-10C1.3,-10 0.2,-9.2 0.2,-7.6C0.2,-4.6 6,-5.6 6,-2.4C6,-0.8 4.6,0 3,0C1.6,0 0.6,-0.5 0,-1.4"/><path vector-effect="non-scaling-stroke" transform="translate(55.00,0)" d="M0,0L3.25,-10L6.5,0M1.1,-3.4H5.4"/><path vector-effect="non-scaling-stroke" transform="translate(73.50,0)" d="M0,-10V0M6,-10L0,-4M2.1,-6L6,0"/><path vector-effect="non-scaling-stroke" transform="translate(82.50,0)" d="M0,0L3.25,-10L6.5,0M1.1,-3.4H5.4"/><path vector-effect="non-scaling-stroke" transform="translate(92.00,0)" d="M0,0V-10H2.6A3.4,3.6 0 0 1 6,-6.4V-3.6A3.4,3.6 0 0 1 2.6,0Z"/><path vector-effect="non-scaling-stroke" transform="translate(101.00,0)" d="M0,-6.5A3.2,3.5 0 0 1 6.4,-6.5V-3.5A3.2,3.5 0 0 1 0,-3.5Z"/><path vector-effect="non-scaling-stroke" transform="translate(110.40,0)" d="M0,0V-10L3.5,-3L7,-10V0"/></g>
<g transform="matrix(0.5640,0,0,0.5100,511.50,1087.60)" fill="none" stroke="#111" stroke-width="1.2" stroke-linecap="round" stroke-linejoin="round"><path vector-effect="non-scaling-stroke" transform="translate(0.00,0)" d="M0,-10L3.25,0L6.5,-10"/><path vector-effect="non-scaling-stroke" transform="translate(9.50,0)" d="M6,-10H0V0H6M0,-5H5"/><path vector-effect="non-scaling-stroke" transform="translate(18.50,0)" d="M0,-10H6L0,0H6"/><path vector-effect="non-scaling-stroke" transform="translate(27.50,0)" d="M0,0L3.25,-10L6.5,0M1.1,-3.4H5.4"/><path vector-effect="non-scaling-stroke" transform="translate(46.00,0)" d="M5.6,-8.8C5.1,-9.6 4.1,-10 3,-10C1.3,-10 0.2,-9.2 0.2,-7.6C0.2,-4.6 6,-5.6 6,-2.4C6,-0.8 4.6,0 3,0C1.6,0 0.6,-0.5 0,-1.4"/><path vector-effect="non-scaling-stroke" transform="translate(55.00,0)" d="M0,0L3.25,-10L6.5,0M1.1,-3.4H5.4"/><path vector-effect="non-scaling-stroke" transform="translate(73.50,0)" d="M0,-10V-3.2A3,3.2 0 0 0 6,-3.2V-10"/><path vector-effect="non-scaling-stroke" transform="translate(82.50,0)" d="M0,0V-10L3.5,-3L7,-10V0"/><path vector-effect="non-scaling-stroke" transform="translate(92.50,0)" d="M0.5,-10V0"/><path vector-effect="non-scaling-stroke" transform="translate(96.50,0)" d="M0,-10L3.25,0L6.5,-10"/><path vector-effect="non-scaling-stroke" transform="translate(106.00,0)" d="M0,0L3.25,-10L6.5,0M1.1,-3.4H5.4"/><path vector-effect="non-scaling-stroke" transform="translate(115.50,0)" d="M0,-6.5A3.2,3.5 0 0 1 6.4,-6.5V-3.5A3.2,3.5 0 0 1 0,-3.5Z"/><path vector-effect="non-scaling-stroke" transform="translate(124.90,0)" d="M0,0V-10L6,0V-10"/><path vector-effect="non-scaling-stroke" transform="translate(133.90,0)" d="M0.5,-10V0"/><path vector-effect="non-scaling-stroke" transform="translate(137.90,0)" d="M0,-10V0M6,-10L0,-4M2.1,-6L6,0"/><path vector-effect="non-scaling-stroke" transform="translate(146.90,0)" d="M0,-6.5A3.2,3.5 0 0 1 6.4,-6.5V-3.5A3.2,3.5 0 0 1 0,-3.5Z"/><path vector-effect="non-scaling-stroke" transform="translate(156.30,0)" d="M0,0V-10L3.5,-3L7,-10V0"/></g>
<g transform="matrix(0,0.8734,-0.9100,0,601.40,1025.80)" fill="none" stroke="#111" stroke-width="1.15" stroke-linecap="round" stroke-linejoin="round"><path vector-effect="non-scaling-stroke" transform="translate(0.00,0)" d="M0,-10V0M6,-10L0,-4M2.1,-6L6,0"/><path vector-effect="non-scaling-stroke" transform="translate(9.00,0)" d="M0,0V-10H3.3A2.75,2.75 0 0 1 3.3,-4.5H0M3.3,-4.5L6,0"/><path vector-effect="non-scaling-stroke" transform="translate(18.00,0)" d="M0,-5.2A3,2.6 0 0 1 6,-5.2V-2.6A3,2.6 0 0 1 0,-2.6ZM-0.2,0.4L6.2,-8.2"/><path vector-effect="non-scaling-stroke" transform="translate(27.00,0)" d="M0.6,-7.8L3,-10V0"/><path vector-effect="non-scaling-stroke" transform="translate(34.00,0)" d="M0.6,-7.8L3,-10V0"/><path vector-effect="non-scaling-stroke" transform="translate(41.00,0)" d="M0,-6.8A3,3.2 0 0 1 6,-6.8V-3.2A3,3.2 0 0 1 0,-3.2Z"/><path vector-effect="non-scaling-stroke" transform="translate(50.00,0)" d="M0,1L6,-11"/><path vector-effect="non-scaling-stroke" transform="translate(59.00,0)" d="M0.6,-7.8L3,-10V0"/><path vector-effect="non-scaling-stroke" transform="translate(66.00,0)" d="M0.6,-7.8L3,-10V0"/><path vector-effect="non-scaling-stroke" transform="translate(73.00,0)" d="M0,-6.8A3,3.2 0 0 1 6,-6.8V-3.2A3,3.2 0 0 1 0,-3.2Z"/></g>
<g transform="matrix(0,0.8470,-0.8800,0,613.00,1025.20)" fill="none" stroke="#111" stroke-width="1.15" stroke-linecap="round" stroke-linejoin="round"><path vector-effect="non-scaling-stroke" transform="translate(0.00,0)" d="M0,-10V0H5.5"/><path vector-effect="non-scaling-stroke" transform="translate(8.50,0)" d="M0,-5.2A3,2.6 0 0 1 6,-5.2V-2.6A3,2.6 0 0 1 0,-2.6ZM-0.2,0.4L6.2,-8.2"/><path vector-effect="non-scaling-stroke" transform="translate(17.50,0)" d="M0.6,-7.8L3,-10V0"/><path vector-effect="non-scaling-stroke" transform="translate(24.50,0)" d="M0.6,-7.8L3,-10V0"/><path vector-effect="non-scaling-stroke" transform="translate(31.50,0)" d="M0,-6.8A3,3.2 0 0 1 6,-6.8V-3.2A3,3.2 0 0 1 0,-3.2Z"/><path vector-effect="non-scaling-stroke" transform="translate(40.50,0)" d="M0,-5H6"/><path vector-effect="non-scaling-stroke" transform="translate(49.50,0)" d="M4.7,0V-10L0,-3H6.5"/><path vector-effect="non-scaling-stroke" transform="translate(59.00,0)" d="M5.6,-10H0.8L0.4,-5.8C1.2,-6.3 2,-6.5 3,-6.5A3,3.25 0 0 1 3,0C1.8,0 0.7,-0.4 0,-1.2"/><path vector-effect="non-scaling-stroke" transform="translate(68.00,0)" d="M0.3,-9A1,1 0 1 0 2.3,-9A1,1 0 1 0 0.3,-9Z"/></g>
<g transform="matrix(0,0.8689,-0.9600,0,624.40,1025.20)" fill="none" stroke="#111" stroke-width="1.15" stroke-linecap="round" stroke-linejoin="round"><path vector-effect="non-scaling-stroke" transform="translate(0.00,0)" d="M0,-10V0M6,-10L0,-4M2.1,-6L6,0"/><path vector-effect="non-scaling-stroke" transform="translate(9.00,0)" d="M0,0V-10H3.3A2.75,2.75 0 0 1 3.3,-4.5H0M3.3,-4.5L6,0"/><path vector-effect="non-scaling-stroke" transform="translate(18.00,0)" d="M0,-5.2A3,2.6 0 0 1 6,-5.2V-2.6A3,2.6 0 0 1 0,-2.6ZM-0.2,0.4L6.2,-8.2"/><path vector-effect="non-scaling-stroke" transform="translate(27.00,0)" d="M0.6,-7.8L3,-10V0"/><path vector-effect="non-scaling-stroke" transform="translate(34.00,0)" d="M0.6,-7.8L3,-10V0"/><path vector-effect="non-scaling-stroke" transform="translate(41.00,0)" d="M0,-6.8A3,3.2 0 0 1 6,-6.8V-3.2A3,3.2 0 0 1 0,-3.2Z"/><path vector-effect="non-scaling-stroke" transform="translate(50.00,0)" d="M0,1L6,-11"/><path vector-effect="non-scaling-stroke" transform="translate(59.00,0)" d="M0,-10H6L2,0"/><path vector-effect="non-scaling-stroke" transform="translate(68.00,0)" d="M5.6,-10H0.8L0.4,-5.8C1.2,-6.3 2,-6.5 3,-6.5A3,3.25 0 0 1 3,0C1.8,0 0.7,-0.4 0,-1.2"/></g>
<g transform="matrix(0,0.8722,-0.9400,0,608.60,1095.60)" fill="none" stroke="#111" stroke-width="1.15" stroke-linecap="round" stroke-linejoin="round"><path vector-effect="non-scaling-stroke" transform="translate(0.00,0)" d="M0,0V-10H3.3A2.75,2.75 0 0 1 3.3,-4.5H0"/><path vector-effect="non-scaling-stroke" transform="translate(9.00,0)" d="M0,0V-10H3.3A2.75,2.75 0 0 1 3.3,-4.5H0M3.3,-4.5L6,0"/><path vector-effect="non-scaling-stroke" transform="translate(18.00,0)" d="M0,-5.2A3,2.6 0 0 1 6,-5.2V-2.6A3,2.6 0 0 1 0,-2.6ZM-0.2,0.4L6.2,-8.2"/><path vector-effect="non-scaling-stroke" transform="translate(27.00,0)" d="M0.6,-7.8L3,-10V0"/><path vector-effect="non-scaling-stroke" transform="translate(34.00,0)" d="M0.6,-7.8L3,-10V0"/><path vector-effect="non-scaling-stroke" transform="translate(41.00,0)" d="M0,-6.8A3,3.2 0 0 1 6,-6.8V-3.2A3,3.2 0 0 1 0,-3.2Z"/><path vector-effect="non-scaling-stroke" transform="translate(50.00,0)" d="M0,1L6,-11"/><path vector-effect="non-scaling-stroke" transform="translate(59.00,0)" d="M0.6,-7.8L3,-10V0"/><path vector-effect="non-scaling-stroke" transform="translate(66.00,0)" d="M0.6,-7.8L3,-10V0"/><path vector-effect="non-scaling-stroke" transform="translate(73.00,0)" d="M0,-6.8A3,3.2 0 0 1 6,-6.8V-3.2A3,3.2 0 0 1 0,-3.2Z"/></g>
<g transform="matrix(0,0.8578,-0.9600,0,620.60,1095.60)" fill="none" stroke="#111" stroke-width="1.15" stroke-linecap="round" stroke-linejoin="round"><path vector-effect="non-scaling-stroke" transform="translate(0.00,0)" d="M0,0V-10H3.3A2.75,2.75 0 0 1 3.3,-4.5H0M3.3,-4.5L6,0"/><path vector-effect="non-scaling-stroke" transform="translate(9.00,0)" d="M6,-10H0V0H6M0,-5H5"/><path vector-effect="non-scaling-stroke" transform="translate(18.00,0)" d="M0,0V-10H2.6A3.4,3.6 0 0 1 6,-6.4V-3.6A3.4,3.6 0 0 1 2.6,0Z"/><path vector-effect="non-scaling-stroke" transform="translate(27.00,0)" d="M0,-5.2A3,2.6 0 0 1 6,-5.2V-2.6A3,2.6 0 0 1 0,-2.6ZM-0.2,0.4L6.2,-8.2"/><path vector-effect="non-scaling-stroke" transform="translate(36.00,0)" d="M0.6,-7.8L3,-10V0"/><path vector-effect="non-scaling-stroke" transform="translate(43.00,0)" d="M0.6,-7.8L3,-10V0"/><path vector-effect="non-scaling-stroke" transform="translate(50.00,0)" d="M0,-6.8A3,3.2 0 0 1 6,-6.8V-3.2A3,3.2 0 0 1 0,-3.2Z"/><path vector-effect="non-scaling-stroke" transform="translate(59.00,0)" d="M0,1L6,-11"/><path vector-effect="non-scaling-stroke" transform="translate(68.00,0)" d="M5.6,-10H0.8L0.4,-5.8C1.2,-6.3 2,-6.5 3,-6.5A3,3.25 0 0 1 3,0C1.8,0 0.7,-0.4 0,-1.2"/><path vector-effect="non-scaling-stroke" transform="translate(77.00,0)" d="M0,-6.8A3,3.2 0 0 1 6,-6.8V-3.2A3,3.2 0 0 1 0,-3.2Z"/></g>
<g transform="matrix(0,0.8783,-1.0300,0,632.00,1095.60)" fill="none" stroke="#111" stroke-width="1.15" stroke-linecap="round" stroke-linejoin="round"><path vector-effect="non-scaling-stroke" transform="translate(0.00,0)" d="M0,-10V0M6,-10L0,-4M2.1,-6L6,0"/><path vector-effect="non-scaling-stroke" transform="translate(9.00,0)" d="M0,0V-10H3.3A2.75,2.75 0 0 1 3.3,-4.5H0M3.3,-4.5L6,0"/><path vector-effect="non-scaling-stroke" transform="translate(18.00,0)" d="M0,-5.2A3,2.6 0 0 1 6,-5.2V-2.6A3,2.6 0 0 1 0,-2.6ZM-0.2,0.4L6.2,-8.2"/><path vector-effect="non-scaling-stroke" transform="translate(27.00,0)" d="M5.6,-10H0.8L0.4,-5.8C1.2,-6.3 2,-6.5 3,-6.5A3,3.25 0 0 1 3,0C1.8,0 0.7,-0.4 0,-1.2"/><path vector-effect="non-scaling-stroke" transform="translate(36.00,0)" d="M0,-6.8A3,3.2 0 0 1 6,-6.8V-3.2A3,3.2 0 0 1 0,-3.2Z"/><path vector-effect="non-scaling-stroke" transform="translate(45.00,0)" d="M0,1L6,-11"/><path vector-effect="non-scaling-stroke" transform="translate(54.00,0)" d="M5.6,-10H0.8L0.4,-5.8C1.2,-6.3 2,-6.5 3,-6.5A3,3.25 0 0 1 3,0C1.8,0 0.7,-0.4 0,-1.2"/><path vector-effect="non-scaling-stroke" transform="translate(63.00,0)" d="M0,-6.8A3,3.2 0 0 1 6,-6.8V-3.2A3,3.2 0 0 1 0,-3.2Z"/></g>
<g transform="matrix(0,0.8414,-0.9600,0,678.90,1136.50)" fill="none" stroke="#111" stroke-width="1.15" stroke-linecap="round" stroke-linejoin="round"><path vector-effect="non-scaling-stroke" transform="translate(0.00,0)" d="M0.2,-7.4A2.9,2.7 0 0 1 6,-7.2C6,-4.6 0,-2.6 0,0H6"/><path vector-effect="non-scaling-stroke" transform="translate(9.00,0)" d="M0,0L5,-7.2M0,-7.2L5,0"/><path vector-effect="non-scaling-stroke" transform="translate(17.00,0)" d="M0,-10V0H5.5"/><path vector-effect="non-scaling-stroke" transform="translate(25.50,0)" d="M0,-5.2A3,2.6 0 0 1 6,-5.2V-2.6A3,2.6 0 0 1 0,-2.6ZM-0.2,0.4L6.2,-8.2"/><path vector-effect="non-scaling-stroke" transform="translate(34.50,0)" d="M5.6,-10H0.8L0.4,-5.8C1.2,-6.3 2,-6.5 3,-6.5A3,3.25 0 0 1 3,0C1.8,0 0.7,-0.4 0,-1.2"/><path vector-effect="non-scaling-stroke" transform="translate(43.50,0)" d="M0,-6.8A3,3.2 0 0 1 6,-6.8V-3.2A3,3.2 0 0 1 0,-3.2Z"/><path vector-effect="non-scaling-stroke" transform="translate(52.50,0)" d="M0,-5H6"/><path vector-effect="non-scaling-stroke" transform="translate(61.50,0)" d="M4.7,0V-10L0,-3H6.5"/><path vector-effect="non-scaling-stroke" transform="translate(71.00,0)" d="M5.6,-10H0.8L0.4,-5.8C1.2,-6.3 2,-6.5 3,-6.5A3,3.25 0 0 1 3,0C1.8,0 0.7,-0.4 0,-1.2"/><path vector-effect="non-scaling-stroke" transform="translate(80.00,0)" d="M0.3,-9A1,1 0 1 0 2.3,-9A1,1 0 1 0 0.3,-9Z"/></g>
<g stroke="#555" stroke-width="0.7" fill="none">
<path d="M600.6 1094V1024.1L633 992M612 1085V1024.1L640 1003M623.6 1090V1024.1L641 1008"/>
<path d="M607.8 1164V1095L647 1056M619.8 1166V1095L646 1070M631.2 1156V1095L645 1082"/>
<path d="M660 1128L678.4 1136.5V1200"/>
</g>
<g fill="none" stroke="#8c8c8c" stroke-width="0.9">
<path d="M819.4 178.2V403M826.5 178.2V403M832.9 178.2V403M843.5 178.2V403M843.5 239.6H918M843.5 253.2H918"/>
<path d="M893 253.3Q887 255 887.5 261L885.5 264.5L886.8 267.5Q888 279 897.8 285.5" stroke-width="0.8"/>
<path d="M898.2 253V286.8" stroke-width="1.5"/>
<path d="M899 256.5L911 260.8L912 268.5M900.5 261.5Q903.5 265 904.5 271.5" stroke-width="1.2"/>
</g>
<path d="M795 178.2H804M812.6 178.2H824M838 178.2H855.8M864.3 178.2H874.9" stroke="#f0b4c2" stroke-width="1"/>
<path d="M795 403H804M812.6 403H824M838 403H855.8M864.3 403H874.9" stroke="#f0b4c2" stroke-width="1"/>
<path d="M917.5 210.3V225M917.5 233.5V250.5M917.5 259.7V273.8" stroke="#f0b4c2" stroke-width="1"/>
<g stroke="#dd2a35" stroke-width="1" fill="#fff">
<rect x="834.5" y="243.3" width="34.7" height="4.8"/>
<rect x="832.4" y="241.8" width="3" height="7.8" rx="1"/><rect x="869" y="241.8" width="3" height="7.8" rx="1"/>
<path d="M872 243.3Q880.5 243.5 880.5 252M872 248.1Q877 248.3 877 252" fill="none"/>
<rect x="876" y="252" width="5.5" height="3" rx="1"/>
<path d="M877 255V265Q877 268 880 268H884M880.5 255V264.5H884" fill="none"/>
<path d="M832.4 243.3Q822 244 821.1 253.5M832.4 248.1Q817 249 816.9 253.5" fill="none"/>
<g transform="translate(826,247.5) rotate(-40)"><rect x="-3.5" y="-2.6" width="7" height="5.2" rx="1"/></g>
<rect x="816.9" y="253.5" width="4.2" height="22"/>
<rect x="815.8" y="255" width="6.4" height="3" rx="1"/><rect x="815.8" y="266.5" width="6.4" height="3" rx="1"/><rect x="816.5" y="272.5" width="5" height="3.5" rx="1.5"/>
</g>
<path d="M797.8 182V240L819 247.5M797.8 330V268.3L818 274.5" stroke="#555" stroke-width="0.7" fill="none"/>
<g transform="matrix(0,0.8390,-0.9200,0,799.20,182.70)" fill="none" stroke="#111" stroke-width="1.15" stroke-linecap="round" stroke-linejoin="round"><path vector-effect="non-scaling-stroke" transform="translate(0.00,0)" d="M0.2,-7.4A2.9,2.7 0 0 1 6,-7.2C6,-4.6 0,-2.6 0,0H6"/><path vector-effect="non-scaling-stroke" transform="translate(9.00,0)" d="M0,0L5,-7.2M0,-7.2L5,0"/><path vector-effect="non-scaling-stroke" transform="translate(17.00,0)" d="M0,-10V0H5.5"/><path vector-effect="non-scaling-stroke" transform="translate(25.50,0)" d="M0,-5.2A3,2.6 0 0 1 6,-5.2V-2.6A3,2.6 0 0 1 0,-2.6ZM-0.2,0.4L6.2,-8.2"/><path vector-effect="non-scaling-stroke" transform="translate(34.50,0)" d="M5.6,-10H0.8L0.4,-5.8C1.2,-6.3 2,-6.5 3,-6.5A3,3.25 0 0 1 3,0C1.8,0 0.7,-0.4 0,-1.2"/><path vector-effect="non-scaling-stroke" transform="translate(43.50,0)" d="M0,-6.8A3,3.2 0 0 1 6,-6.8V-3.2A3,3.2 0 0 1 0,-3.2Z"/><path vector-effect="non-scaling-stroke" transform="translate(52.50,0)" d="M0,-5H6"/><path vector-effect="non-scaling-stroke" transform="translate(61.50,0)" d="M4.7,0V-10L0,-3H6.5"/><path vector-effect="non-scaling-stroke" transform="translate(71.00,0)" d="M5.6,-10H0.8L0.4,-5.8C1.2,-6.3 2,-6.5 3,-6.5A3,3.25 0 0 1 3,0C1.8,0 0.7,-0.4 0,-1.2"/><path vector-effect="non-scaling-stroke" transform="translate(80.00,0)" d="M0.3,-9A1,1 0 1 0 2.3,-9A1,1 0 1 0 0.3,-9Z"/></g>
<g transform="matrix(0,0.8522,-0.9600,0,798.80,274.20)" fill="none" stroke="#111" stroke-width="1.15" stroke-linecap="round" stroke-linejoin="round"><path vector-effect="non-scaling-stroke" transform="translate(0.00,0)" d="M0,-10V0M6,-10L0,-4M2.1,-6L6,0"/><path vector-effect="non-scaling-stroke" transform="translate(9.00,0)" d="M0,0V-10H3.3A2.75,2.75 0 0 1 3.3,-4.5H0M3.3,-4.5L6,0"/><path vector-effect="non-scaling-stroke" transform="translate(18.00,0)" d="M0,-5.2A3,2.6 0 0 1 6,-5.2V-2.6A3,2.6 0 0 1 0,-2.6ZM-0.2,0.4L6.2,-8.2"/><path vector-effect="non-scaling-stroke" transform="translate(27.00,0)" d="M5.6,-10H0.8L0.4,-5.8C1.2,-6.3 2,-6.5 3,-6.5A3,3.25 0 0 1 3,0C1.8,0 0.7,-0.4 0,-1.2"/><path vector-effect="non-scaling-stroke" transform="translate(36.00,0)" d="M0,-6.8A3,3.2 0 0 1 6,-6.8V-3.2A3,3.2 0 0 1 0,-3.2Z"/><path vector-effect="non-scaling-stroke" transform="translate(45.00,0)" d="M0,1L6,-11"/><path vector-effect="non-scaling-stroke" transform="translate(54.00,0)" d="M5.6,-10H0.8L0.4,-5.8C1.2,-6.3 2,-6.5 3,-6.5A3,3.25 0 0 1 3,0C1.8,0 0.7,-0.4 0,-1.2"/><path vector-effect="non-scaling-stroke" transform="translate(63.00,0)" d="M0,-6.8A3,3.2 0 0 1 6,-6.8V-3.2A3,3.2 0 0 1 0,-3.2Z"/></g>
<path d="M843.5 290.5L851.8 282.7V325.0M843.5 290.5H862.8" stroke="#777" stroke-width="0.8" fill="none"/>
<g transform="matrix(0,0.9787,-0.9700,0,853.60,291.20)" fill="none" stroke="#8a8a8a" stroke-width="0.9" stroke-linecap="round" stroke-linejoin="round"><path vector-effect="non-scaling-stroke" transform="translate(0.00,0)" d="M3,-9V-3M0,-6H6M0,0H6"/><path vector-effect="non-scaling-stroke" transform="translate(9.00,0)" d="M0,-6.8A3,3.2 0 0 1 6,-6.8V-3.2A3,3.2 0 0 1 0,-3.2Z"/><path vector-effect="non-scaling-stroke" transform="translate(18.00,0)" d="M0.8,-0.6V0"/><path vector-effect="non-scaling-stroke" transform="translate(22.60,0)" d="M0,-6.8A3,3.2 0 0 1 6,-6.8V-3.2A3,3.2 0 0 1 0,-3.2Z"/><path vector-effect="non-scaling-stroke" transform="translate(31.60,0)" d="M0,-6.8A3,3.2 0 0 1 6,-6.8V-3.2A3,3.2 0 0 1 0,-3.2Z"/></g>
<g transform="matrix(0,1.6188,-1.7300,0,890.10,297.60)" fill="none" stroke="#8a8a8a" stroke-width="1.0" stroke-linecap="round" stroke-linejoin="round"><path vector-effect="non-scaling-stroke" transform="translate(0.00,0)" d="M0,0V-10H2.6A3.4,3.6 0 0 1 6,-6.4V-3.6A3.4,3.6 0 0 1 2.6,0Z"/><path vector-effect="non-scaling-stroke" transform="translate(9.00,0)" d="M6,-10H0V0H6M0,-5H5"/><path vector-effect="non-scaling-stroke" transform="translate(18.00,0)" d="M0,-10H6.5M3.25,-10V0"/><path vector-effect="non-scaling-stroke" transform="translate(27.50,0)" d="M0,0L3.25,-10L6.5,0M1.1,-3.4H5.4"/><path vector-effect="non-scaling-stroke" transform="translate(37.00,0)" d="M0,-10V0H5.5"/><path vector-effect="non-scaling-stroke" transform="translate(45.50,0)" d="M5,-10V-3A2.5,3 0 0 1 0,-3"/><path vector-effect="non-scaling-stroke" transform="translate(62.50,0)" d="M0,0L3.25,-10L6.5,0M1.1,-3.4H5.4"/></g>
<g fill="none" stroke="#8c8c8c" stroke-width="0.9">
<path d="M819.5 499.4V723.6M826.4 499.4V723.6M833.5 499.4V723.6M843.5 499.4V723.6M826.9 638H899.6M826.9 651.7H899.6"/>
<path d="M843.5 589.7H885.5V637.7M885.5 593Q870 594 856 596Q849 597 849 605V623Q849 632 857 633Q870 635 885.5 637"/>
</g>
<path d="M794.5 499.4H812M821.8 499.4H837M846.8 499.4H864.2" stroke="#f0b4c2" stroke-width="1"/>
<path d="M794.5 723.6H804.2M812.3 723.6H829.3M839 723.6H856M864 723.6H874.5" stroke="#f0b4c2" stroke-width="1"/>
<path d="M899.6 608V687.3" stroke="#f0b4c2" stroke-width="1" stroke-dasharray="14 8"/>
<g stroke="#dd2a35" stroke-width="1" fill="#fff">
<rect x="834.5" y="581" width="8" height="25.5"/>
<rect x="833.8" y="580.5" width="9.4" height="3.4" rx="1"/>
<rect x="833.8" y="587" width="9.4" height="3.4" rx="1"/>
<rect x="833.8" y="593.5" width="9.4" height="3.4" rx="1"/>
<rect x="833.8" y="600" width="9.4" height="3.4" rx="1"/>
<rect x="835.5" y="602" width="6" height="5" rx="2.5"/>
</g>
<path d="M843 582L853.6 576.4V544M836 604.5L789.7 630V688" stroke="#555" stroke-width="0.7" fill="none"/>
<g transform="matrix(0,0.8399,-0.8300,0,856.70,543.80)" fill="none" stroke="#111" stroke-width="1.15" stroke-linecap="round" stroke-linejoin="round"><path vector-effect="non-scaling-stroke" transform="translate(0.00,0)" d="M4.6,-6.3C4.2,-6.8 3.4,-7.2 2.4,-7.2C1,-7.2 0.1,-6.6 0.1,-5.3C0.1,-2.6 5,-4.4 5,-1.8C5,-0.6 4,0 2.5,0C1.4,0 0.5,-0.3 0,-1"/><path vector-effect="non-scaling-stroke" transform="translate(8.00,0)" d="M0.5,-10V0"/><path vector-effect="non-scaling-stroke" transform="translate(12.00,0)" d="M0.8,-0.6V0"/><path vector-effect="non-scaling-stroke" transform="translate(16.60,0)" d="M0,-5.2A3,2.6 0 0 1 6,-5.2V-2.6A3,2.6 0 0 1 0,-2.6ZM-0.2,0.4L6.2,-8.2"/><path vector-effect="non-scaling-stroke" transform="translate(25.60,0)" d="M0,-10H6L2,0"/><path vector-effect="non-scaling-stroke" transform="translate(34.60,0)" d="M5.6,-10H0.8L0.4,-5.8C1.2,-6.3 2,-6.5 3,-6.5A3,3.25 0 0 1 3,0C1.8,0 0.7,-0.4 0,-1.2"/></g>
<g transform="matrix(0,0.8622,-0.9700,0,791.00,629.90)" fill="none" stroke="#111" stroke-width="1.15" stroke-linecap="round" stroke-linejoin="round"><path vector-effect="non-scaling-stroke" transform="translate(0.00,0)" d="M0,-10V0M6,-10L0,-4M2.1,-6L6,0"/><path vector-effect="non-scaling-stroke" transform="translate(9.00,0)" d="M0,0V-10H3.3A2.75,2.75 0 0 1 3.3,-4.5H0M3.3,-4.5L6,0"/><path vector-effect="non-scaling-stroke" transform="translate(18.00,0)" d="M0,-5.2A3,2.6 0 0 1 6,-5.2V-2.6A3,2.6 0 0 1 0,-2.6ZM-0.2,0.4L6.2,-8.2"/><path vector-effect="non-scaling-stroke" transform="translate(27.00,0)" d="M0.6,-7.8L3,-10V0"/><path vector-effect="non-scaling-stroke" transform="translate(34.00,0)" d="M0.6,-7.8L3,-10V0"/><path vector-effect="non-scaling-stroke" transform="translate(41.00,0)" d="M0,-6.8A3,3.2 0 0 1 6,-6.8V-3.2A3,3.2 0 0 1 0,-3.2Z"/><path vector-effect="non-scaling-stroke" transform="translate(50.00,0)" d="M0,1L6,-11"/><path vector-effect="non-scaling-stroke" transform="translate(59.00,0)" d="M0,-10H6L2,0"/><path vector-effect="non-scaling-stroke" transform="translate(68.00,0)" d="M5.6,-10H0.8L0.4,-5.8C1.2,-6.3 2,-6.5 3,-6.5A3,3.25 0 0 1 3,0C1.8,0 0.7,-0.4 0,-1.2"/></g>
<path d="M843.5 684.8L851.8 677.0V719.8M843.5 684.8H862.8" stroke="#777" stroke-width="0.8" fill="none"/>
<g transform="matrix(0,0.9894,-0.8900,0,854.30,685.60)" fill="none" stroke="#8a8a8a" stroke-width="0.9" stroke-linecap="round" stroke-linejoin="round"><path vector-effect="non-scaling-stroke" transform="translate(0.00,0)" d="M3,-9V-3M0,-6H6M0,0H6"/><path vector-effect="non-scaling-stroke" transform="translate(9.00,0)" d="M0,-6.8A3,3.2 0 0 1 6,-6.8V-3.2A3,3.2 0 0 1 0,-3.2Z"/><path vector-effect="non-scaling-stroke" transform="translate(18.00,0)" d="M0.8,-0.6V0"/><path vector-effect="non-scaling-stroke" transform="translate(22.60,0)" d="M0,-6.8A3,3.2 0 0 1 6,-6.8V-3.2A3,3.2 0 0 1 0,-3.2Z"/><path vector-effect="non-scaling-stroke" transform="translate(31.60,0)" d="M0,-6.8A3,3.2 0 0 1 6,-6.8V-3.2A3,3.2 0 0 1 0,-3.2Z"/></g>
<g transform="matrix(0,1.5997,-1.7000,0,914.10,615.30)" fill="none" stroke="#8a8a8a" stroke-width="1.0" stroke-linecap="round" stroke-linejoin="round"><path vector-effect="non-scaling-stroke" transform="translate(0.00,0)" d="M0,0V-10H2.6A3.4,3.6 0 0 1 6,-6.4V-3.6A3.4,3.6 0 0 1 2.6,0Z"/><path vector-effect="non-scaling-stroke" transform="translate(9.00,0)" d="M6,-10H0V0H6M0,-5H5"/><path vector-effect="non-scaling-stroke" transform="translate(18.00,0)" d="M0,-10H6.5M3.25,-10V0"/><path vector-effect="non-scaling-stroke" transform="translate(27.50,0)" d="M0,0L3.25,-10L6.5,0M1.1,-3.4H5.4"/><path vector-effect="non-scaling-stroke" transform="translate(37.00,0)" d="M0,-10V0H5.5"/><path vector-effect="non-scaling-stroke" transform="translate(45.50,0)" d="M5,-10V-3A2.5,3 0 0 1 0,-3"/><path vector-effect="non-scaling-stroke" transform="translate(62.50,0)" d="M0,0V-10H3.5A2.5,2.5 0 0 1 3.5,-5H0M3.5,-5H3.6A2.6,2.5 0 0 1 3.6,0H0Z"/></g>
</svg>
</body></html>
